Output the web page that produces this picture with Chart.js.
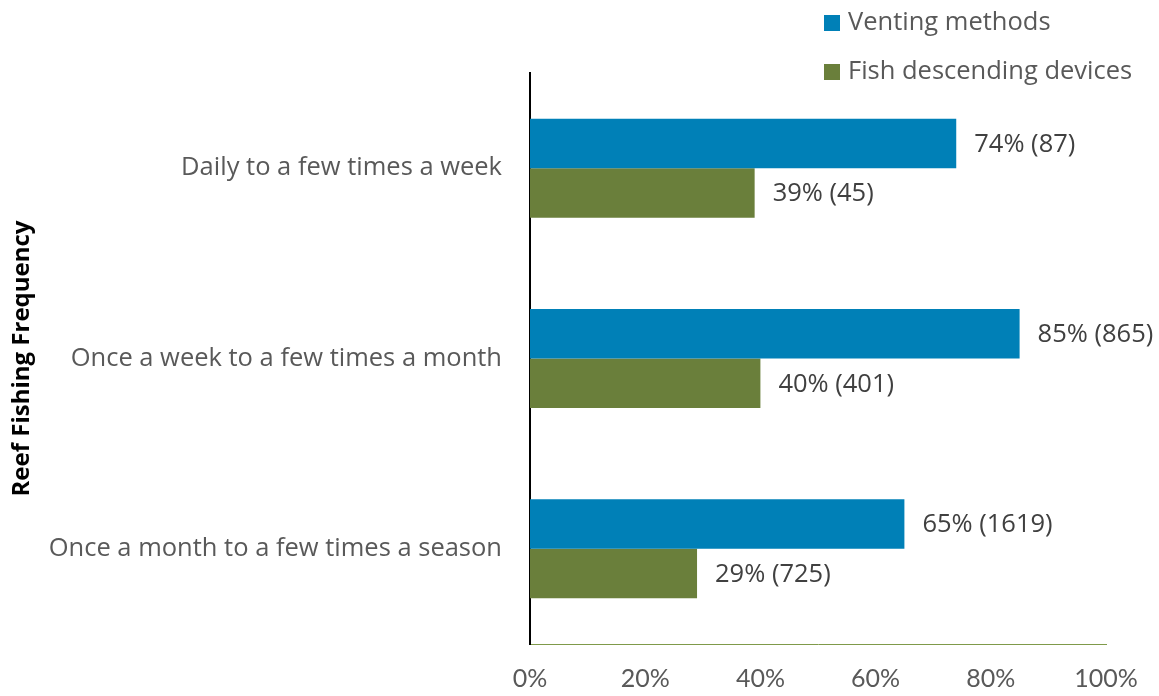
<!DOCTYPE html>
<html>
<head>
<meta charset="utf-8">
<script src="https://cdn.jsdelivr.net/npm/chart.js@4"></script>
<style>
  body { margin: 0; background: #fff; }
  #wrap { position: relative; width: 1159px; height: 696px; }
  #legend { position: absolute; left: 824px; top: 4px; font-family: "Open Sans", sans-serif; font-size: 25.5px; color: #595959; }
  #legend div { height: 49px; line-height: 32px; white-space: nowrap; }
  #legend span.box { display: inline-block; width: 16px; height: 16px; margin-right: 8px; vertical-align: -1px; }
</style>
</head>
<body>
<div id="wrap">
  <canvas id="chart" width="1159" height="696"></canvas>
  <div id="legend"></div>
</div>
<script>
// categories top to bottom
var categories = ["Daily to a few times a week", "Once a week to a few times a month", "Once a month to a few times a season"];
var seriesNames = ["Venting methods", "Fish descending devices"];
var seriesColors = ["#0080b7", "#6a7f3b"];
// percent of respondents, with counts shown in brackets
var ventingPct = [74, 85, 65];
var ventingN = [87, 865, 1619];
var descendPct = [39, 40, 29];
var descendN = [45, 401, 725];
var xTicks = [0, 20, 40, 60, 80, 100];

var counts = [ventingN, descendN];

// legend, one item per row
var leg = document.getElementById("legend");
for (var s = 0; s < seriesNames.length; s++) {
    var row = document.createElement("div");
    row.innerHTML = '<span class="box" style="background:' + seriesColors[s] + '"></span>' + seriesNames[s];
    leg.appendChild(row);
}

// value labels at the end of each bar
var barLabels = {
    id: "barLabels",
    afterDatasetsDraw: function (chart) {
        var ctx = chart.ctx;
        ctx.save();
        ctx.font = "25.5px 'Open Sans', sans-serif";
        ctx.fillStyle = "#404040";
        ctx.textAlign = "left";
        ctx.textBaseline = "middle";
        chart.data.datasets.forEach(function (ds, di) {
            var meta = chart.getDatasetMeta(di);
            meta.data.forEach(function (bar, i) {
                ctx.fillText(ds.data[i] + "% (" + counts[di][i] + ")", bar.x + 18, bar.y + 1);
            });
        });
        ctx.restore();
    }
};

var chart = new Chart(document.getElementById("chart"), {
    type: "bar",
    data: {
        labels: categories,
        datasets: [
            { label: seriesNames[0], data: ventingPct, backgroundColor: seriesColors[0] },
            { label: seriesNames[1], data: descendPct, backgroundColor: seriesColors[1] }
        ]
    },
    options: {
        indexAxis: "y",
        responsive: false,
        animation: false,
        layout: { padding: { top: 73, right: 53, left: 0, bottom: 0 } },
        datasets: { bar: { barPercentage: 1, categoryPercentage: 0.52 } },
        plugins: { legend: { display: false }, tooltip: { enabled: false } },
        scales: {
            x: {
                min: 0, max: 100,
                afterBuildTicks: function (scale) {
                    scale.ticks = xTicks.map(function (v) { return { value: v }; });
                },
                afterFit: function (scale) { scale.height = 52; },
                grid: { display: false, drawTicks: false },
                border: { display: true, color: "#7f9a4a", width: 1 },
                ticks: {
                    padding: 20,
                    color: "#595959",
                    font: { family: "Lato, sans-serif", size: 25 },
                    callback: function (v) { return v + "%"; }
                }
            },
            y: {
                afterFit: function (scale) { scale.width = 530; },
                grid: { display: false, drawTicks: false },
                border: { display: true, color: "#000", width: 2 },
                ticks: {
                    padding: 28,
                    color: "#595959",
                    font: { family: "'Open Sans', sans-serif", size: 25.5 }
                },
                title: {
                    display: true,
                    text: "Reef Fishing Frequency",
                    color: "#000",
                    font: { family: "'Open Sans', sans-serif", size: 24, weight: "bold" },
                    padding: { top: 8, bottom: 4 }
                }
            }
        }
    },
    plugins: [barLabels]
});
</script>
</body>
</html>
